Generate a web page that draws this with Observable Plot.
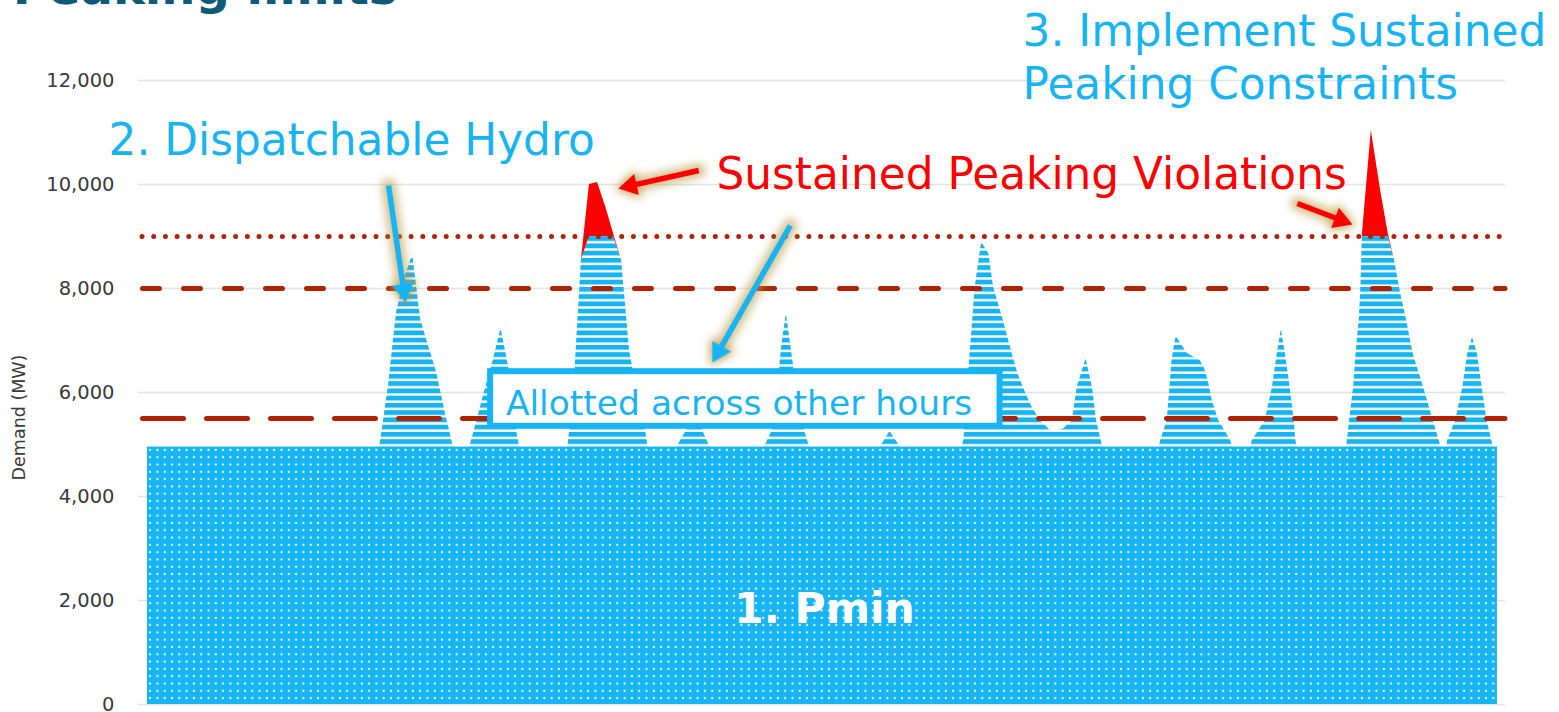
<!DOCTYPE html>
<html>
<head>
<meta charset="utf-8">
<script src="https://cdn.jsdelivr.net/npm/d3@7"></script>
<script src="https://cdn.jsdelivr.net/npm/@observablehq/plot@0.6"></script>
<style>
  html, body { margin: 0; padding: 0; background: #ffffff; }
  #chart { position: absolute; left: 0; top: 0; width: 1559px; height: 712px; overflow: hidden; }
  g[aria-description="glow"] { filter: blur(4px); }
</style>
</head>
<body>
<div id="chart"></div>
<script>
// ---------- DATA ----------
// hour of the study period (x) and system demand in MW (y)
const hours = [
  0,
  28.8, 29, 30, 31, 32, 33, 34, 35, 36, 37, 38, 38.2,
  40.1, 41, 42, 43, 44, 45, 46, 46.3,
  52.3, 53, 54, 55, 56, 57, 58, 59, 60, 61, 62, 62.3,
  65.9, 67, 68, 69, 70,
  76.8, 78, 78.9, 79.5, 80.1, 81.3, 82.3, 82.5,
  91.2, 92.4, 93.7,
  101.4, 101.6, 102.3, 102.7, 103.0, 103.8, 104.7, 105.3, 106.5, 107.6, 108.3, 109.3, 110.1, 111.1, 112.6,
  114.0, 115.1, 115.7, 116.8, 117.6, 118.1, 118.8, 119.0,
  125.9, 126.1, 126.9, 127.5, 128.0, 129.4, 131.0, 131.5, 132.0, 132.5, 133.3, 134.8, 135.0,
  137.3, 137.5, 139.1, 140.0, 140.6, 141.1, 141.6, 142.2, 142.7, 142.9, 143.1,
  149.2, 149.3, 149.6, 150.1, 150.4, 150.8, 151.0, 151.2, 152.3, 153.4, 154.4, 155.2, 155.8, 156.7, 157.5, 158.8, 160.0, 160.9, 161.0,
  161.7, 161.8, 162.8, 163.7, 164.3, 164.9, 165.5, 166.1, 166.7, 167.3, 167.5, 168
];
const demand = [
  4950,
  4950, 5050, 6150, 7550, 8200, 8650, 7400, 6880, 6380, 5650, 5000, 4950,
  4950, 5450, 6050, 6600, 7230, 6450, 5200, 4950,
  4950, 5900, 8550, 10000, 10040, 9580, 9060, 8540, 6800, 5980, 5250, 4950,
  4950, 5250, 5550, 5300, 4950,
  4950, 5350, 6850, 7520, 6850, 5500, 5000, 4950,
  4950, 5250, 4950,
  4950, 5100, 6600, 7400, 8020, 8890, 8670, 8020, 7390, 6750, 6370, 5980, 5710, 5460, 5230,
  5300, 5460, 6100, 6650, 6100, 5460, 5000, 4950,
  4950, 5075, 5460, 6615, 7080, 6750, 6615, 6480, 6230, 5850, 5460, 5075, 4950,
  4950, 5075, 5460, 6100, 6750, 7210, 6750, 6100, 5460, 5075, 4950,
  4950, 5050, 5460, 6100, 6750, 7400, 8020, 9060, 11040, 9940, 9060, 8540, 8020, 7385, 6750, 6100, 5460, 5000, 4950,
  4950, 5075, 5460, 6100, 6750, 7060, 6750, 6100, 5460, 5075, 4950, 4950
];
const pmin = 4950;                 // 1. Pmin block (MW)
const sustainedLimit = 9000;       // dotted limit (MW)
const limitDashed = 8000;          // dashed limit (MW)
const limitLongDash = 5500;        // long-dash limit (MW)
const yTicks = [0, 2000, 4000, 6000, 8000, 10000, 12000];

// annotation anchors (hour, MW)
const titleNote = {text: "Peaking limits", hour: 31.1, mw: 13480};
const blueNotes = [
  {text: "2. Dispatchable Hydro", hour: -4.85, mw: 10560},
  {text: "3. Implement Sustained", hour: 108.9, mw: 12670},
  {text: "Peaking Constraints", hour: 108.9, mw: 11650}
];
const redNotes = [{text: "Sustained Peaking Violations", hour: 70.8, mw: 9920}];
const boxNote = {text: "Allotted across other hours", hour: 44.6, mw: 5560, h1: 42.7, h2: 106.1, m1: 5350, m2: 6400};
const pminNote = {text: "1. Pmin", hour: 84.25, mw: 1560};
const axisNote = {text: "Demand (MW)", hour: -16.0, mw: 5520};
const arrows = [
  {h1: 30.0, m1: 9980, h2: 32.1, m2: 7730, kind: "blue"},
  {h1: 68.6, m1: 10270, h2: 58.6, m2: 9923, kind: "red"},
  {h1: 80.0, m1: 9210, h2: 70.3, m2: 6577, kind: "blue"},
  {h1: 143.1, m1: 9635, h2: 149.95, m2: 9231, kind: "red"}
];

// ---------- STYLE / LAYOUT ----------
const blue = "#17b4f4", red = "#ff0000", darkRed = "#b02200", gridColor = "#e3e3e3", glow = "#b8983f";
const W = 1559, H = 712, mL = 147, mR = 54, mT = 80, mB = 8;
const xDomain = [0, 169], yDomain = [0, 12000];
const sx = d3.scaleLinear(xDomain, [mL, W - mR]);
const sy = d3.scaleLinear(yDomain, [H - mB, mT]);

const series = hours.map((h, i) => {
  const d = Math.max(demand[i], pmin);
  return {hour: h, demand: d, hydroTop: Math.min(d, sustainedLimit)};
});

const arrowGeom = arrows.map(a => {
  const x1 = sx(a.h1), y1 = sy(a.m1), x2 = sx(a.h2), y2 = sy(a.m2);
  const len = Math.hypot(x2 - x1, y2 - y1), ux = (x2 - x1) / len, uy = (y2 - y1) / len;
  return {
    ...a,
    color: a.kind === "blue" ? blue : red,
    hs: sx.invert(x2 - ux * 14), ms: sy.invert(y2 - uy * 14),
    hc: sx.invert(x2 - ux * 12.4), mc: sy.invert(y2 - uy * 12.4),
    angle: Math.atan2(ux, -uy) * 180 / Math.PI
  };
});

const font = "DejaVu Sans";
const plot = Plot.plot({
  width: W, height: H,
  marginLeft: mL, marginRight: mR, marginTop: mT, marginBottom: mB,
  x: {domain: xDomain, axis: null},
  y: {domain: yDomain, ticks: yTicks, tickFormat: d3.format(","), tickSize: 0, tickPadding: 33, label: null},
  color: {type: "identity"},
  style: {fontFamily: font, fontSize: "19.5px", color: "#3a3a3a", background: "white", overflow: "visible"},
  marks: [
    Plot.ruleY(yTicks, {x1: -1.1, x2: 169, stroke: gridColor, strokeWidth: 1.5}),
    Plot.rect([pmin], {x1: hours[0], x2: hours[hours.length - 1], y1: 0, y2: d => d, fill: "url(#pminDots)"}),
    Plot.areaY(series, {x: "hour", y1: pmin, y2: "hydroTop", fill: "url(#hydroStripes)"}),
    Plot.areaY(series, {x: "hour", y1: "hydroTop", y2: "demand", fill: red}),
    Plot.ruleY([sustainedLimit], {x1: -0.62, x2: 169, stroke: darkRed, strokeWidth: 5, strokeDasharray: "0 11.7", strokeLinecap: "round"}),
    Plot.ruleY([limitDashed], {x1: -0.56, x2: 169, stroke: darkRed, strokeWidth: 5, strokeDasharray: "17 24", strokeLinecap: "round"}),
    Plot.ruleY([limitLongDash], {x1: -0.56, x2: 169, stroke: darkRed, strokeWidth: 5, strokeDasharray: "41 23", strokeLinecap: "round"}),
    Plot.rect([boxNote], {x1: "h1", x2: "h2", y1: "m1", y2: "m2", fill: "white", stroke: blue, strokeWidth: 6}),
    Plot.text([boxNote], {x: "hour", y: "mw", text: "text", fill: blue, fontSize: 34.5, textAnchor: "start", lineAnchor: "bottom"}),
    Plot.text(blueNotes, {x: "hour", y: "mw", text: "text", fill: blue, fontSize: 43.8, textAnchor: "start", lineAnchor: "bottom"}),
    Plot.text(redNotes, {x: "hour", y: "mw", text: "text", fill: red, fontSize: 43.8, textAnchor: "start", lineAnchor: "bottom"}),
    Plot.text([pminNote], {x: "hour", y: "mw", text: "text", fill: "white", fontSize: 42.5, fontWeight: "bold", textAnchor: "middle", lineAnchor: "bottom"}),
    Plot.text([titleNote], {x: "hour", y: "mw", text: "text", fill: "#0d5a7a", fontSize: 48, fontWeight: "bold", textAnchor: "end", lineAnchor: "bottom"}),
    Plot.text([axisNote], {x: "hour", y: "mw", text: "text", fill: "#3a3a3a", fontSize: 17.5, rotate: -90, textAnchor: "middle", lineAnchor: "middle"}),
    // arrows: glow then body
    Plot.link(arrowGeom, {x1: "h1", y1: "m1", x2: "hs", y2: "ms", stroke: glow, strokeWidth: 14, strokeOpacity: 0.6, strokeLinecap: "round", ariaDescription: "glow"}),
    Plot.dot(arrowGeom, {x: "hc", y: "mc", r: 11.5, symbol: "triangle", rotate: "angle", fill: glow, fillOpacity: 0.6, stroke: "none", ariaDescription: "glow"}),
    Plot.link(arrowGeom, {x1: "h1", y1: "m1", x2: "hs", y2: "ms", stroke: "color", strokeWidth: 5.5}),
    Plot.dot(arrowGeom, {x: "hc", y: "mc", r: 8, symbol: "triangle", rotate: "angle", fill: "color", stroke: "none"})
  ]
});

d3.select(plot).insert("defs", ":first-child").html(`
  <pattern id="pminDots" patternUnits="userSpaceOnUse" x="0.5" y="1" width="7.3" height="7.3">
    <rect width="7.3" height="7.3" fill="${blue}"></rect>
    <rect x="2.6" y="2.6" width="2" height="2" fill="#ffffff" fill-opacity="0.9"></rect>
  </pattern>
  <pattern id="hydroStripes" patternUnits="userSpaceOnUse" x="0" y="4.2" width="10" height="7.25">
    <rect width="10" height="4.8" fill="${blue}"></rect>
  </pattern>
`);

document.getElementById("chart").appendChild(plot);
</script>
</body>
</html>
